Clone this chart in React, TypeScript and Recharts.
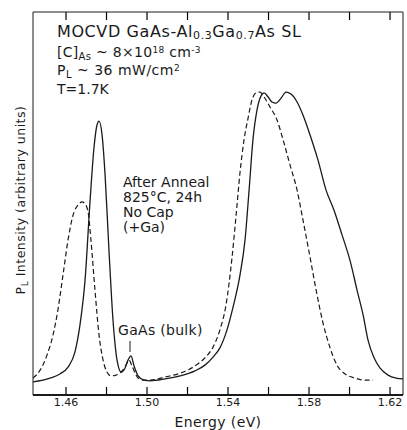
import React from 'react';
import { LineChart, Line, XAxis, YAxis } from 'recharts';

// PL spectra (energy in eV, intensity in arbitrary units 0-100)
const solidEnergy = [
  1.4437, 1.4521, 1.457, 1.461, 1.4644, 1.4669, 1.4694, 1.4719, 1.4738, 1.4753, 1.4763, 1.4778,
  1.4793, 1.4812, 1.4832, 1.4852, 1.4872, 1.4891, 1.4906, 1.4921, 1.4936, 1.4956, 1.4985, 1.5015,
  1.5089, 1.5163, 1.5237, 1.5286, 1.5326, 1.536, 1.5395, 1.5425, 1.5459, 1.5484, 1.5504, 1.5523,
  1.5543, 1.5563, 1.5578, 1.5598, 1.5617, 1.5637, 1.5662, 1.5686, 1.5711, 1.5741, 1.577, 1.5805,
  1.5844, 1.5884, 1.5923, 1.5963, 1.6002, 1.6037, 1.6067, 1.6091, 1.6121, 1.6151, 1.619, 1.623, 1.6264,
];
const solidIntensity = [
  3.4, 4.4, 5.5, 7.3, 11.2, 18.3, 30.0, 50.9, 64.5, 70.5, 71.5, 67.9,
  57.4, 37.9, 19.6, 9.1, 6.0, 7.0, 9.1, 10.2, 7.6, 5.0, 3.9, 3.7,
  4.2, 5.0, 6.3, 7.8, 9.9, 12.3, 17.0, 23.0, 31.3, 40.5, 53.5, 66.6,
  74.4, 78.1, 78.9, 77.8, 76.5, 76.2, 77.5, 79.1, 78.6, 76.5, 73.1, 67.9,
  61.4, 53.5, 48.3, 41.8, 35.2, 27.4, 20.9, 14.4, 9.7, 7.0, 5.2, 4.4, 4.2,
];

const dashedEnergy = [
  1.4437, 1.4472, 1.4506, 1.4536, 1.456, 1.4585, 1.461, 1.4635, 1.4659, 1.4679, 1.4694, 1.4709,
  1.4723, 1.4743, 1.4763, 1.4783, 1.4802, 1.4822, 1.4847, 1.4872, 1.4896, 1.4911, 1.4926, 1.4946,
  1.4975, 1.5015, 1.5089, 1.5163, 1.5237, 1.5286, 1.5326, 1.536, 1.539, 1.542, 1.544, 1.5459,
  1.5479, 1.5499, 1.5518, 1.5538, 1.5558, 1.5578, 1.5607, 1.5642, 1.5672, 1.5706, 1.5741, 1.577,
  1.5805, 1.5835, 1.5869, 1.5904, 1.5938, 1.5978, 1.6027, 1.6077, 1.6116,
];
const dashedIntensity = [
  4.4, 6.5, 10.4, 15.7, 22.2, 31.3, 40.5, 47.0, 49.6, 50.4, 49.9, 47.8,
  40.5, 27.4, 15.7, 9.1, 6.0, 5.0, 5.2, 6.0, 7.8, 9.1, 7.6, 5.2,
  3.9, 3.9, 4.7, 5.7, 7.6, 9.7, 12.5, 17.0, 23.5, 36.0, 47.0, 58.0,
  66.6, 72.3, 77.0, 78.9, 79.1, 77.8, 75.2, 71.8, 66.6, 60.1, 53.5, 45.7,
  36.0, 27.4, 18.8, 12.3, 7.8, 5.5, 4.4, 3.9, 3.9,
];

const energyTicks = [1.46, 1.48, 1.5, 1.52, 1.54, 1.56, 1.58, 1.6, 1.62];
const labeledTicks = [1.46, 1.5, 1.54, 1.58, 1.62];

const solidData = solidEnergy.map((e, i) => ({ e, v: solidIntensity[i] }));
const dashedData = dashedEnergy.map((e, i) => ({ e, v: dashedIntensity[i] }));

const FONT = '"DejaVu Sans", sans-serif';
const INK = '#1a1a1a';
const E_MIN = 1.4437;
const E_MAX = 1.6264;

// plot box, matches the margins / axis sizes given to the chart below
const PLOT_LEFT = 33;
const PLOT_RIGHT = 403;
const PLOT_TOP = 12;
const PLOT_BOTTOM = 395;
const tickX = (t: number) => PLOT_LEFT + ((t - E_MIN) / (E_MAX - E_MIN)) * (PLOT_RIGHT - PLOT_LEFT);

const formatEnergy = (v: number) =>
  labeledTicks.some((t) => Math.abs(t - v) < 1e-6) ? v.toFixed(2) : '';

export default function App() {
  return (
    <div style={{ position: 'fixed', left: 0, top: 0, width: 407, height: 430, background: '#fff' }}>
      <LineChart width={407} height={430} margin={{ top: 11, right: 3, left: 32, bottom: 1 }}>
        <XAxis
          dataKey="e"
          type="number"
          domain={[E_MIN, E_MAX]}
          allowDataOverflow
          ticks={energyTicks}
          tickFormatter={formatEnergy}
          tick={{ fontSize: 11, fontFamily: FONT, fill: INK }}
          tickLine={false}
          tickSize={0}
          tickMargin={3}
          height={34}
          axisLine={{ stroke: INK, strokeWidth: 2 }}
          label={{
            value: 'Energy (eV)',
            position: 'insideBottom',
            offset: 2,
            fontSize: 14,
            fontFamily: FONT,
            fill: INK,
            letterSpacing: 0.4,
          }}
        />
        <XAxis
          xAxisId="top"
          dataKey="e"
          orientation="top"
          type="number"
          domain={[E_MIN, E_MAX]}
          allowDataOverflow
          tick={false}
          tickLine={false}
          height={1}
          axisLine={{ stroke: INK, strokeWidth: 1 }}
        />
        <YAxis
          type="number"
          domain={[0, 100]}
          allowDataOverflow
          width={1}
          tick={false}
          tickLine={false}
          axisLine={{ stroke: INK, strokeWidth: 1 }}
        />
        <YAxis
          yAxisId="right"
          orientation="right"
          type="number"
          domain={[0, 100]}
          allowDataOverflow
          width={1}
          tick={false}
          tickLine={false}
          axisLine={{ stroke: INK, strokeWidth: 1 }}
        />

        <Line
          data={solidData}
          dataKey="v"
          type="monotone"
          stroke={INK}
          strokeWidth={1.3}
          dot={false}
          isAnimationActive={false}
        />
        <Line
          data={dashedData}
          dataKey="v"
          type="monotone"
          stroke={INK}
          strokeWidth={1.2}
          strokeDasharray="5 3"
          dot={false}
          isAnimationActive={false}
        />
        {/* invisible series so the top / right axes get a domain */}
        <Line
          data={solidData}
          dataKey="v"
          xAxisId="top"
          yAxisId="right"
          stroke="none"
          dot={false}
          activeDot={false}
          isAnimationActive={false}
        />

        {/* inward tick marks on bottom and top frame */}
        <g stroke="#000" strokeWidth={1.2}>
          {energyTicks.map((t) => (
            <line key={`b${t}`} x1={tickX(t)} x2={tickX(t)} y1={PLOT_BOTTOM} y2={PLOT_BOTTOM - 8} />
          ))}
          {energyTicks.map((t) => (
            <line key={`t${t}`} x1={tickX(t)} x2={tickX(t)} y1={PLOT_TOP} y2={PLOT_TOP + 8} />
          ))}
        </g>

        {/* y axis title */}
        <text
          transform="translate(25,200) rotate(-90)"
          textAnchor="middle"
          fontSize={12.5}
          fontFamily={FONT}
          fill={INK}
          letterSpacing={0.5}
        >
          P<tspan fontSize={9} dy={3}>L</tspan>
          <tspan dy={-3}> Intensity (arbitrary units)</tspan>
        </text>

        {/* sample description */}
        <g fontFamily={FONT} fill={INK}>
          <text x={57} y={37} fontSize={16} letterSpacing={0.6}>
            MOCVD GaAs-Al<tspan fontSize={11} dy={2}>0.3</tspan>
            <tspan dy={-2}>Ga</tspan>
            <tspan fontSize={11} dy={2}>0.7</tspan>
            <tspan dy={-2}>As SL</tspan>
          </text>
          <text x={57} y={57} fontSize={14} letterSpacing={0.3}>
            [C]<tspan fontSize={10} dy={3}>As</tspan>
            <tspan dy={-3}> ~ 8×10</tspan>
            <tspan fontSize={9} dy={-4}>18</tspan>
            <tspan dy={4}> cm</tspan>
            <tspan fontSize={9} dy={-4}>-3</tspan>
          </text>
          <text x={57} y={75} fontSize={14} letterSpacing={0.5}>
            P<tspan fontSize={10} dy={3}>L</tspan>
            <tspan dy={-3}> ~ 36 mW/cm</tspan>
            <tspan fontSize={9} dy={-4}>2</tspan>
          </text>
          <text x={57} y={94} fontSize={14}>T=1.7K</text>

          <text x={123} y={187} fontSize={14}>After Anneal</text>
          <text x={123} y={202} fontSize={14}>825°C, 24h</text>
          <text x={123} y={217} fontSize={14}>No Cap</text>
          <text x={123} y={232} fontSize={14}>(+Ga)</text>

          <text x={118} y={335} fontSize={14} letterSpacing={0.3}>GaAs (bulk)</text>
          <line x1={130} x2={130} y1={341} y2={352} stroke={INK} strokeWidth={1} />
        </g>
      </LineChart>
    </div>
  );
}
